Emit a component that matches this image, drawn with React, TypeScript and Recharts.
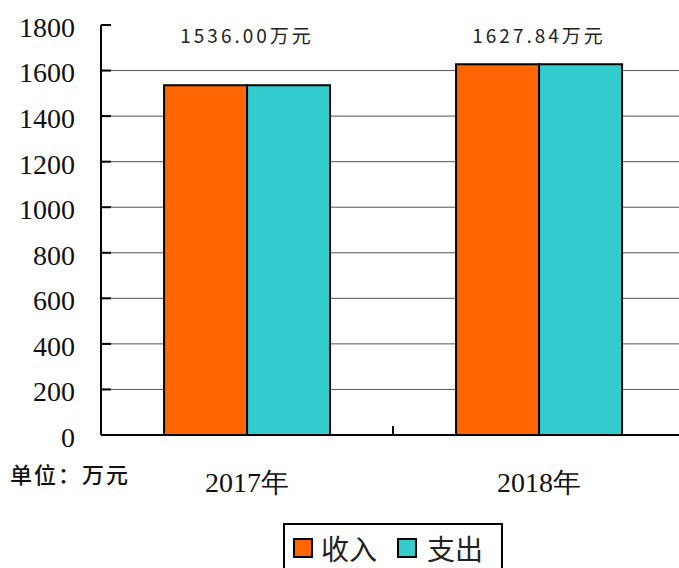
import React from "react";
import {
  BarChart,
  Bar,
  XAxis,
  YAxis,
  CartesianGrid,
  Legend,
  LabelList,
  Label,
} from "recharts";

const YEARS = ["2017年", "2018年"];
const INCOME = [1536.0, 1627.84];
const EXPENSE = [1536.0, 1627.84];
const Y_TICKS = [0, 200, 400, 600, 800, 1000, 1200, 1400, 1600, 1800];
const GRID_VALUES = [200, 400, 600, 800, 1000, 1200, 1400, 1600];
const SERIES = [
  { key: "income", name: "收入", color: "#FF6600" },
  { key: "expense", name: "支出", color: "#33CCCC" },
];

const CHART_W = 700;
const CHART_H = 568;
const MARGIN = { top: 25, right: 15, bottom: 0, left: 0 };
const Y_AXIS_W = 101;
const BAND = (CHART_W - MARGIN.right - MARGIN.left - Y_AXIS_W) / YEARS.length;

const SERIF = "Liberation Serif";
const SANS = "Noto Sans CJK SC";

const data = YEARS.map((year, i) => ({
  year,
  income: INCOME[i],
  expense: EXPENSE[i],
}));

function YearTick(props: any) {
  const { x, y, payload, index } = props;
  return (
    <g>
      {index > 0 && (
        <line
          x1={x - BAND / 2}
          x2={x - BAND / 2}
          y1={y}
          y2={y - 9}
          stroke="#000"
          strokeWidth={2}
        />
      )}
      <text
        x={x}
        y={y + 57}
        textAnchor="middle"
        style={{ fontSize: 28, fontFamily: SERIF, fill: "#111" }}
      >
        {payload.value}
      </text>
    </g>
  );
}

function TotalLabel(props: any) {
  const { x, width, value } = props;
  return (
    <text
      x={x + width}
      y={MARGIN.top + 18}
      textAnchor="middle"
      style={{ fontSize: 19, fontFamily: SANS, letterSpacing: 3, fill: "#222" }}
    >
      {`${Number(value).toFixed(2)}万元`}
    </text>
  );
}

function LegendBox() {
  return (
    <div style={{ height: 45 }}>
      <div
        style={{
          boxSizing: "border-box",
          width: 220,
          height: 50,
          border: "2px solid #000",
          display: "flex",
          alignItems: "center",
          paddingLeft: 8,
          fontFamily: SANS,
          fontSize: 28,
          color: "#222",
          background: "#fff",
        }}
      >
        {SERIES.map((s, i) => (
          <React.Fragment key={s.key}>
            <span
              style={{
                boxSizing: "border-box",
                width: 20,
                height: 20,
                border: "2px solid #000",
                background: s.color,
                marginLeft: i === 0 ? 0 : 20,
                marginRight: i === 0 ? 8 : 10,
              }}
            />
            <span style={{ lineHeight: "28px" }}>{s.name}</span>
          </React.Fragment>
        ))}
      </div>
    </div>
  );
}

export default function App() {
  return (
    <div
      style={{
        position: "absolute",
        left: 0,
        top: 0,
        width: 679,
        height: 568,
        overflow: "hidden",
        background: "#fff",
      }}
    >
      <BarChart
        width={CHART_W}
        height={CHART_H}
        data={data}
        margin={MARGIN}
        barGap={0}
        barCategoryGap="21.6%"
      >
        <CartesianGrid
          vertical={false}
          horizontalValues={GRID_VALUES}
          stroke="#555"
          strokeWidth={1}
        />
        <XAxis
          dataKey="year"
          height={88}
          tickSize={0}
          tickMargin={0}
          tickLine={false}
          axisLine={{ stroke: "#000", strokeWidth: 2 }}
          tick={<YearTick />}
          interval={0}
        />
        <YAxis
          width={Y_AXIS_W}
          domain={[0, 1800]}
          ticks={Y_TICKS}
          interval={0}
          tickSize={-10}
          tickMargin={36}
          axisLine={{ stroke: "#000", strokeWidth: 2 }}
          tickLine={{ stroke: "#000", strokeWidth: 2 }}
          tick={{ fontSize: 28, fill: "#111", dy: 2, style: { fontFamily: SERIF } }}
        >
          <Label
            value="单位：万元"
            position="insideBottomLeft"
            offset={10}
            dy={58}
            style={{ fontSize: 22, fontFamily: SANS, fontWeight: 500, fill: "#111", letterSpacing: 2 }}
          />
        </YAxis>
        <Legend
          verticalAlign="bottom"
          height={45}
          wrapperStyle={{ left: 283, width: 220, bottom: 0 }}
          content={<LegendBox />}
        />
        {SERIES.map((s, i) => (
          <Bar
            key={s.key}
            dataKey={s.key}
            name={s.name}
            fill={s.color}
            stroke="#000"
            strokeWidth={2}
            isAnimationActive={false}
          >
            {i === 0 && <LabelList dataKey={s.key} content={<TotalLabel />} />}
          </Bar>
        ))}
      </BarChart>
    </div>
  );
}
